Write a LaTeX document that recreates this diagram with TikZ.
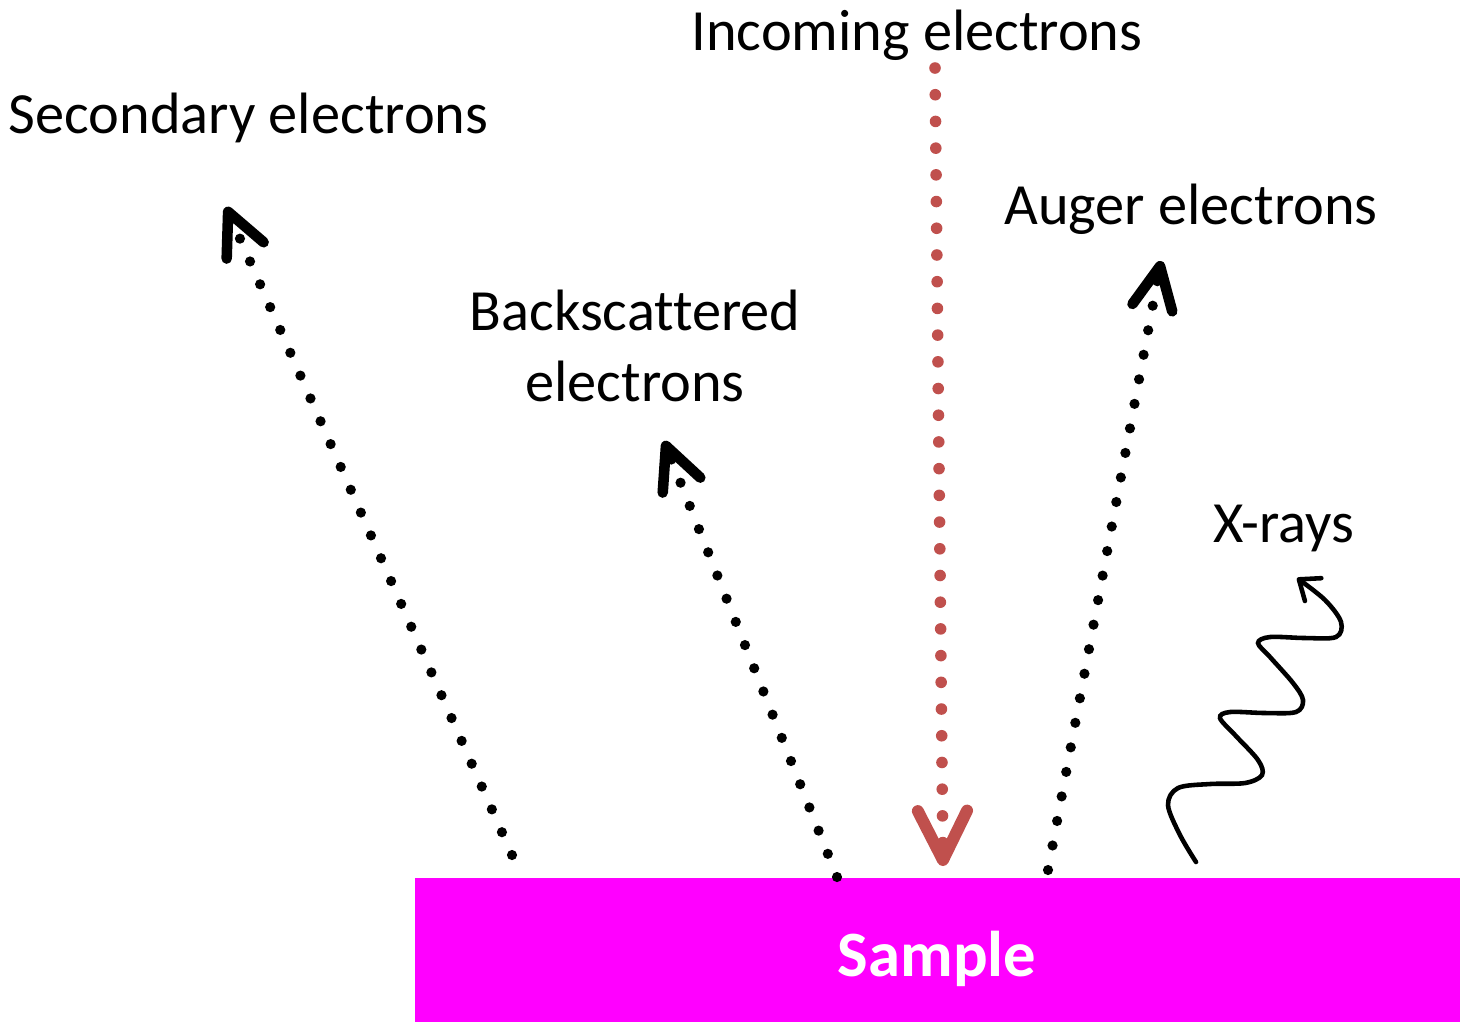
\documentclass[tikz,border=0pt]{standalone}
\usepackage{fontspec}
\setmainfont[Ligatures={NoCommon}]{Carlito}
\usetikzlibrary{arrows.meta}
\definecolor{beamred}{HTML}{C0504D}
\definecolor{samplemag}{HTML}{FF00FF}
\tikzset{
  lbl/.style={font=\fontsize{16.6}{20}\selectfont, inner sep=0pt},
  emitted/.style={line width=2.9pt, line cap=round, dash pattern=on 0pt off 7.1pt,
    -{Straight Barb[length=12pt, width=11.5pt, line width=3pt, round]}},
  incoming/.style={beamred, line width=3.3pt, line cap=round, dash pattern=on 0pt off 7.6pt,
    -{Straight Barb[length=14pt, width=14pt, line width=3.4pt, round]}},
  xray/.style={line width=1.3pt, line cap=round,
    -{Straight Barb[length=5pt, width=8pt, line width=1.3pt, round]}}
}
\begin{document}
\begin{tikzpicture}[x=0.1mm,y=-0.1mm]
\useasboundingbox (0,0) rectangle (1460,1023);

% sample block
\node[fill=samplemag, minimum width=104.6mm, minimum height=14.4mm, inner sep=0pt,
      anchor=north west] (sample) at (414,877) {};
\node[lbl, font=\fontsize{18.4}{22}\selectfont\bfseries, text=white, anchor=base] (samplelbl) at (937,976) {Sample};

% labels
\node[lbl, anchor=base] (inlbl) at (917,50) {Incoming electrons};
\node[lbl, anchor=base west] (seclbl) at (8,133) {Secondary electrons};
\node[lbl, anchor=base, align=center, text width=80mm] (bslbl) at (635,330) {Backscattered\\[0.4pt]electrons};
\node[lbl, anchor=base] (auglbl) at (1191,224) {Auger electrons};
\node[lbl, anchor=base] (xlbl) at (1284,542) {X-rays};

% start and end points of the rays
\coordinate (inA) at (935,68);   \coordinate (inB) at (943,866);
\coordinate (secA) at (512,855); \coordinate (secB) at (226,207);
\coordinate (bsA) at (837,877);  \coordinate (bsB) at (664,441);
\coordinate (augA) at (1048,870); \coordinate (augB) at (1161,261);

\draw[incoming] (inA) -- (inB);
\draw[emitted] (secA) -- (secB);
\draw[emitted] (bsA) -- (bsB);
\draw[emitted] (augA) -- (augB);

% x-ray wave
\coordinate (xA) at (1196,862);
\coordinate (xB) at (1297,578);
\draw[xray] plot[smooth, tension=0.55] coordinates {(xA) (1180,835) (1168,805) (1178,788) (1210,784)
  (1245,783) (1262,775) (1258,760) (1235,735) (1220,718) (1230,712) (1265,713) (1296,712)
  (1303,700) (1293,683) (1270,657) (1258,643) (1270,637) (1305,638) (1336,637)
  (1341,622) (1325,600) (xB)};
\end{tikzpicture}
\end{document}
